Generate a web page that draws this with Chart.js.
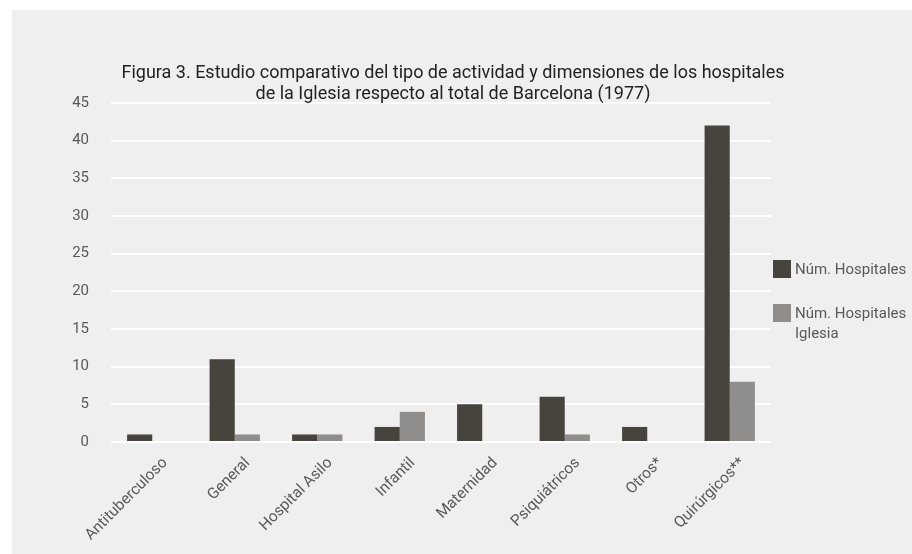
<!DOCTYPE html>
<html>
<head>
<meta charset="utf-8">
<script src="https://cdn.jsdelivr.net/npm/chart.js@4.4.0/dist/chart.umd.min.js"></script>
<style>
  html, body { margin: 0; background: #fff; overflow: hidden; }
  #panel { position: absolute; left: 12px; top: 10px; width: 900px; height: 544px; background: #efefef; }
  #titulo {
    position: absolute; left: 0; top: 51px; width: 882px;
    text-align: center; font: 18px/21px Roboto, "Liberation Sans", sans-serif; color: #222;
  }
  #chart { position: absolute; left: 0; top: 0; display: block; }
</style>
</head>
<body>
<div id="panel">
  <canvas id="chart" width="900" height="544"></canvas>
  <div id="titulo">Figura 3. Estudio comparativo del tipo de actividad y dimensiones de los hospitales<br>de la Iglesia respecto al total de Barcelona (1977)</div>
</div>
<script>
const categorias = ["Antituberculoso", "General", "Hospital Asilo", "Infantil", "Maternidad", "Psiquiátricos", "Otros*", "Quirúrgicos**"];
const numHospitales = [1, 11, 1, 2, 5, 6, 2, 42];
const numHospitalesIglesia = [0, 1, 1, 4, 0, 1, 0, 8];
const series = [["Núm. Hospitales"], ["Núm. Hospitales", "Iglesia"]];
const colores = ["#47433d", "#8f8e8c"];

const FONT = "Roboto, 'Liberation Sans', sans-serif";

// legend drawn by hand so the second entry can wrap onto two lines
const sideLegend = {
  id: "sideLegend",
  afterDraw(chart) {
    const { ctx, chartArea } = chart;
    const x = chartArea.right + 2;
    const tops = [chartArea.top + 157, chartArea.top + 201];
    ctx.save();
    ctx.font = "15px " + FONT;
    ctx.textBaseline = "middle";
    chart.data.datasets.forEach((ds, i) => {
      ctx.fillStyle = ds.backgroundColor;
      ctx.fillRect(x, tops[i], 18, 18);
      ctx.fillStyle = "#595959";
      series[i].forEach((line, j) => {
        ctx.fillText(line, x + 22, tops[i] + 10 + j * 20);
      });
    });
    ctx.restore();
  },
};

new Chart(document.getElementById("chart"), {
  type: "bar",
  plugins: [sideLegend],
  data: {
    labels: categorias,
    datasets: [
      { label: series[0].join(" "), data: numHospitales, backgroundColor: colores[0] },
      { label: series[1].join(" "), data: numHospitalesIglesia, backgroundColor: colores[1] },
    ],
  },
  options: {
    responsive: false,
    animation: false,
    categoryPercentage: 0.61,
    barPercentage: 1,
    layout: { padding: { left: 59, right: 141, top: 93, bottom: 12 } },
    plugins: {
      legend: { display: false },
      tooltip: { enabled: false },
    },
    scales: {
      x: {
        afterFit: (scale) => { scale.height = 100; },
        grid: { display: false },
        border: { display: false },
        ticks: {
          color: "#595959",
          font: { family: FONT, size: 15.5 },
          minRotation: 45,
          maxRotation: 45,
          padding: 4,
          labelOffset: 13,
        },
      },
      y: {
        min: 0,
        max: 45,
        afterFit: (scale) => { scale.width = 40; },
        grid: { color: "#ffffff", lineWidth: 2, drawTicks: false },
        border: { display: false },
        ticks: {
          stepSize: 5,
          color: "#595959",
          font: { family: FONT, size: 15 },
          padding: 22,
        },
      },
    },
  },
});
</script>
</body>
</html>
